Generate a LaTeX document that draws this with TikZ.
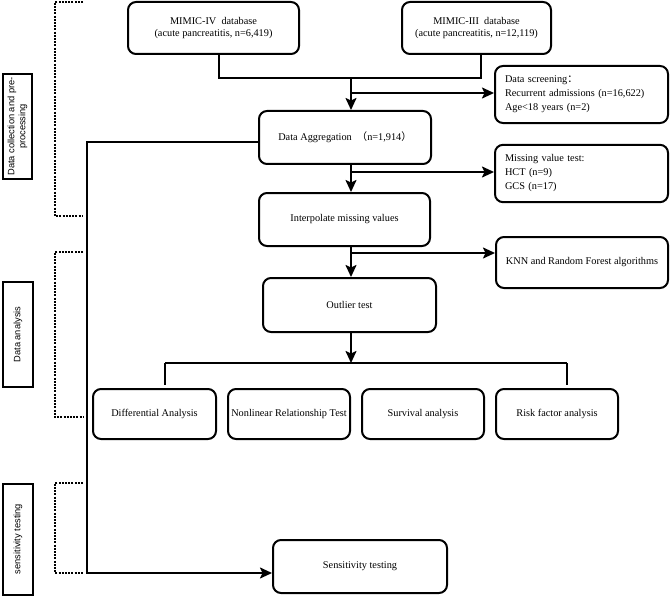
\documentclass[tikz,border=0pt]{standalone}
\usepackage{fontspec}
\setmainfont{Liberation Serif}
\setsansfont{Liberation Sans}
\newfontfamily\cjk{Noto Sans CJK SC}
\usetikzlibrary{arrows.meta}
\begin{document}
\begin{tikzpicture}[x=1pt,y=-1pt,
  box/.style={draw, line width=2pt, rounded corners=8pt, inner sep=0pt, align=center,
    font=\fontsize{10.3}{12.4}\selectfont},
  lbox/.style={box, text width=153pt, align=left, inner sep=10pt,
    font=\fontsize{10.3}{14}\selectfont},
  lab/.style={draw, line width=2pt, rotate=90, inner sep=0pt, align=center,
    font=\sffamily\fontsize{9.3}{11}\selectfont},
  ln/.style={line width=2pt},
  arr/.style={ln, -{Stealth[length=12pt,width=11pt,inset=2.5pt]}},
  dot/.style={line width=2pt, dash pattern=on 2pt off 1.2pt}]
\useasboundingbox (0,0) rectangle (671,596);
% boxes
\node[box, minimum width=171pt, minimum height=52pt] (m4) at (213.5,28) {MIMIC-IV\ \ database\\(acute pancreatitis, n=6,419)};
\node[box, minimum width=149pt, minimum height=52pt] (m3) at (476.5,28) {MIMIC-III\ \ database\\(acute pancreatitis, n=12,119)};
\node[box, minimum width=172pt, minimum height=53pt] (agg) at (345,137.5) {Data Aggregation\ \ {\cjk （}n=1,914{\cjk ）}};
\node[box, minimum width=171pt, minimum height=53pt] (interp) at (344.5,219.5) {Interpolate missing values};
\node[box, minimum width=173pt, minimum height=54pt] (outl) at (349.5,305) {Outlier test};
\node[lbox, minimum height=51pt] (scr) at (581.5,94.5) {Data screening{\cjk ：}\\Recurrent admissions (n=16,622)\\Age\textless18 years (n=2)};
\node[lbox, minimum height=53pt] (miss) at (581.5,173.5) {Missing value test:\\HCT (n=9)\\GCS (n=17)};
\node[box, minimum width=172pt, minimum height=51pt] (knn) at (582,262.5) {KNN and Random Forest algorithms};
\node[box, minimum width=123pt, minimum height=50pt] (diff) at (154.5,414) {Differential Analysis};
\node[box, minimum width=122pt, minimum height=50pt] (nonl) at (289,414) {Nonlinear Relationship Test};
\node[box, minimum width=122pt, minimum height=50pt] (surv) at (423,414) {Survival analysis};
\node[box, minimum width=122pt, minimum height=50pt] (risk) at (557,414) {Risk factor analysis};
\node[box, minimum width=174pt, minimum height=53pt] (sens) at (360,566.5) {Sensitivity testing};
% side labels
\node[lab, minimum width=105pt, minimum height=29pt] (lab1) at (17.5,126.5) {Data collection and pre-\\processing};
\node[lab, minimum width=105pt, minimum height=30pt] (lab2) at (18,334.5) {Data analysis};
\node[lab, minimum width=111pt, minimum height=30pt] (lab3) at (18,539) {sensitivity testing};
% coordinates
\coordinate (j1) at (351,78);
\coordinate (b1) at (351,93);
\coordinate (b2) at (351,172);
\coordinate (b3) at (351,253);
\coordinate (sp) at (351,363);
\coordinate (sl) at (165,363);
\coordinate (sr) at (567,363);
\coordinate (L) at (87,573);
% connectors
\draw[ln] ([xshift=5.5pt]m4.south) |- (j1) -| ([xshift=4.5pt]m3.south);
\draw[arr] (j1) -- (j1 |- agg.north);
\draw[arr] (b1) -- (b1 -| scr.west);
\draw[arr] (j1 |- agg.south) -- (j1 |- interp.north);
\draw[arr] (b2) -- (b2 -| miss.west);
\draw[arr] (j1 |- interp.south) -- (j1 |- outl.north);
\draw[arr] (b3) -- (b3 -| knn.west);
\draw[arr] (j1 |- outl.south) -- (sp);
\draw[ln] (sl) -- (sr);
\draw[ln] (sl) -- ++(0,22);
\draw[ln] (sr) -- ++(0,22);
\draw[arr] ([yshift=-4.5pt]agg.west) -| (L) -- (L -| sens.west);
% dotted brackets
\draw[dot] (83,2) -- (55,2) -- (55,216) -- (83,216);
\draw[dot] (83,252) -- (55,252) -- (55,417) -- (83,417);
\draw[dot] (83,483) -- (55,483) -- (55,573) -- (83,573);
\end{tikzpicture}
\end{document}
